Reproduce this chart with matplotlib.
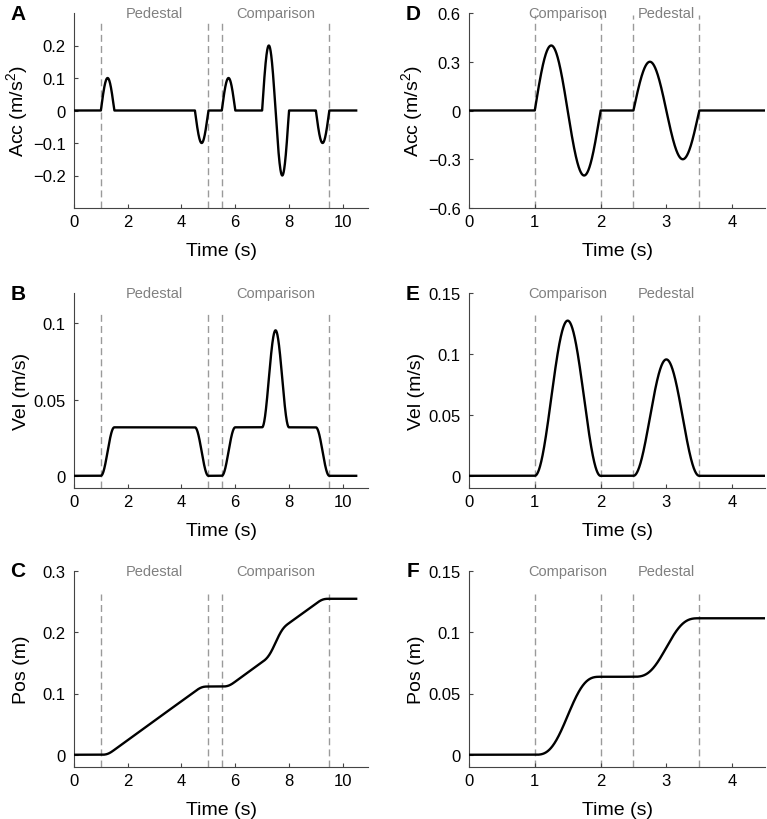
import numpy as np
import matplotlib
matplotlib.use("Agg")
import matplotlib.pyplot as plt
from matplotlib.ticker import FuncFormatter

plt.rcParams['font.family'] = ['Liberation Sans', 'DejaVu Sans']
plt.rcParams['mathtext.fontset'] = 'custom'
plt.rcParams['mathtext.rm'] = 'Liberation Sans'
plt.rcParams['mathtext.it'] = 'Liberation Sans:italic'

# acceleration pulses (start s, duration s, amplitude m/s^2, sine cycles)
left_start = [1.0, 4.5, 5.5, 7.0, 9.0]
left_dur = [0.5, 0.5, 0.5, 1.0, 0.5]
left_amp = [0.1, -0.1, 0.1, 0.2, -0.1]
left_cycles = [0.5, 0.5, 0.5, 1.0, 0.5]
left_tmax = 10.5

right_start = [1.0, 2.5]
right_dur = [1.0, 1.0]
right_amp = [0.4, 0.3]
right_cycles = [1.0, 1.0]
right_tmax = 4.5

# interval markers and their labels
left_marks = [1.0, 5.0, 5.5, 9.5]
left_labels = ["Pedestal", "Comparison"]
left_label_x = [3.0, 7.5]
right_marks = [1.0, 2.0, 2.5, 3.5]
right_labels = ["Comparison", "Pedestal"]
right_label_x = [1.5, 3.0]

left_xticks = [0, 2, 4, 6, 8, 10]
right_xticks = [0, 1, 2, 3, 4]


def profiles(starts, durs, amps, cycles, tmax):
    t = np.linspace(0, tmax, 4001)
    acc = np.zeros_like(t)
    for s, d, a, c in zip(starts, durs, amps, cycles):
        m = (t >= s) & (t <= s + d)
        acc[m] += a * np.sin(2 * np.pi * c * (t[m] - s) / d)
    dt = np.diff(t)
    vel = np.concatenate([[0], np.cumsum((acc[1:] + acc[:-1]) / 2 * dt)])
    pos = np.concatenate([[0], np.cumsum((vel[1:] + vel[:-1]) / 2 * dt)])
    return t, acc, vel, pos


# %g labels with a real minus sign
fmt = FuncFormatter(lambda v, p: ("%g" % v).replace("-", "\u2212"))

W, H = 767, 820
fig = plt.figure(figsize=(W / 100, H / 100), dpi=100)

cols = [
    dict(left=74, width=294, xlim=(0, 10.94), xticks=left_xticks,
         marks=left_marks, labels=left_labels, label_x=left_label_x,
         data=profiles(left_start, left_dur, left_amp, left_cycles, left_tmax),
         ylims=[(-0.3, 0.3), (-0.008, 0.12), (-0.02, 0.3)],
         yticks=[[-0.2, -0.1, 0, 0.1, 0.2], [0, 0.05, 0.1], [0, 0.1, 0.2, 0.3]],
         dash_top=[0.955, 0.894, 0.882],
         letters="ABC"),
    dict(left=469, width=296, xlim=(0, 4.5), xticks=right_xticks,
         marks=right_marks, labels=right_labels, label_x=right_label_x,
         data=profiles(right_start, right_dur, right_amp, right_cycles, right_tmax),
         ylims=[(-0.6, 0.6), (-0.01, 0.15), (-0.01, 0.15)],
         yticks=[[-0.6, -0.3, 0, 0.3, 0.6], [0, 0.05, 0.1, 0.15], [0, 0.05, 0.1, 0.15]],
         dash_top=[0.99, 0.887, 0.882],
         letters="DEF"),
]
rows = [(14, 209), (294, 489), (572, 768)]  # top / bottom in pixels
ylabels = ["Acc (m/s$^2$)", "Vel (m/s)", "Pos (m)"]

for col in cols:
    t = col["data"][0]
    for r, (top, bot) in enumerate(rows):
        ax = fig.add_axes([col["left"] / W, 1 - bot / H,
                           col["width"] / W, (bot - top) / H])
        ax.plot(t, col["data"][r + 1], color="black", lw=1.7, zorder=3)
        for xm in col["marks"]:
            ax.axvline(xm, ymin=0, ymax=col["dash_top"][r], color="#9a9a9a",
                       lw=1.0, dashes=(5, 3), zorder=1)
        for lab, lx in zip(col["labels"], col["label_x"]):
            ax.text(lx, 1.0, lab, transform=ax.get_xaxis_transform(),
                    ha="center", va="center", color="#808080", fontsize=10.5)

        ax.set_xlim(*col["xlim"])
        ax.set_ylim(*col["ylims"][r])
        ax.set_xticks(col["xticks"])
        ax.set_yticks(col["yticks"][r])
        ax.yaxis.set_major_formatter(fmt)
        ax.tick_params(direction="in", length=3, width=0.8, labelsize=12,
                       color="#444444", pad=6)
        ax.tick_params(axis="x", pad=4)
        for side in ["top", "right"]:
            ax.spines[side].set_visible(False)
        for side in ["left", "bottom"]:
            ax.spines[side].set_color("#444444")
            ax.spines[side].set_linewidth(0.8)

        ax.set_xlabel("Time (s)", fontsize=14)
        ax.set_ylabel(ylabels[r], fontsize=14)
        ax.xaxis.set_label_coords(0.5, -0.175)
        ax.yaxis.set_label_coords(-0.15, 0.5)

        fig.text((col["left"] - 56) / W, 1 - top / H, col["letters"][r],
                 fontsize=15, fontweight="bold", ha="center", va="center")

fig.savefig("out.png", dpi=100)
